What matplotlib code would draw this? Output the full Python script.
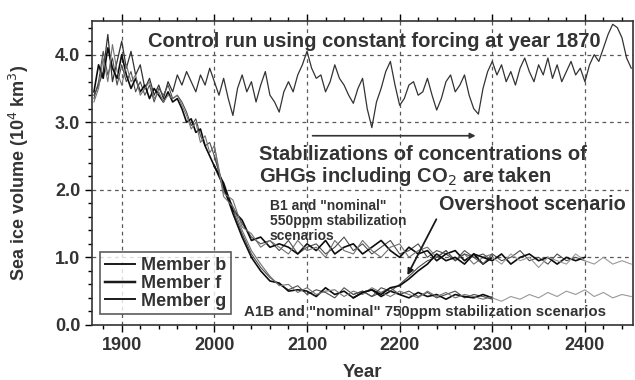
import numpy as np
import matplotlib

matplotlib.use("Agg")
import matplotlib.pyplot as plt
from matplotlib.ticker import MultipleLocator, FormatStrFormatter

plt.rcParams["font.family"] = ["Liberation Sans", "DejaVu Sans"]

# control run, every 5 years 1870-2450
control_years = np.arange(1870, 2451, 5)
control = [
    3.40, 3.55, 3.75, 4.30, 3.60, 3.90, 4.20, 3.80, 4.05, 3.70,
    3.85, 3.50, 3.65, 3.40, 3.55, 3.35, 3.60, 3.45, 3.70, 3.55,
    3.75, 3.60, 3.45, 3.70, 3.55, 3.80, 3.60, 3.40, 3.65, 3.35,
    3.10, 3.50, 3.70, 3.45, 3.60, 3.30, 3.55, 3.75, 3.40, 3.30,
    3.15, 3.45, 3.60, 3.45, 3.70, 3.85, 4.05, 3.80, 3.65, 3.70,
    3.45, 3.60, 3.85, 3.65, 3.55, 3.40, 3.28, 3.50, 3.65, 3.20,
    2.92, 3.30, 3.50, 3.75, 3.90, 3.55, 3.25, 3.35, 3.55, 3.60,
    3.40, 3.45, 3.65, 3.40, 3.18, 3.35, 3.60, 3.70, 3.45, 3.55,
    3.70, 3.40, 3.20, 3.12, 3.50, 3.75, 3.90, 3.70, 3.85, 3.60,
    3.75, 3.55, 3.80, 3.95, 3.75, 3.60, 3.85, 3.70, 3.95, 3.65,
    3.85, 3.60, 3.75, 3.90, 3.70, 3.80, 3.60, 3.85, 4.00, 3.90,
    4.10, 4.30, 4.45, 4.40, 4.25, 3.95, 3.80,
]

# historical part of the three members, every 5 years 1870-2000
hist_years = np.arange(1870, 2001, 5)
hist_b = [3.35, 3.60, 4.05, 3.70, 3.95, 3.55, 3.85, 3.60, 3.75, 3.45, 3.60, 3.40, 3.55, 3.30,
          3.50, 3.40, 3.55, 3.35, 3.40, 3.30, 3.15, 2.95, 3.05, 2.80, 2.65, 2.70, 2.50]
hist_f = [3.45, 3.85, 3.65, 4.10, 3.80, 3.65, 4.00, 3.70, 3.50, 3.65, 3.45, 3.55, 3.35, 3.50,
          3.40, 3.30, 3.45, 3.30, 3.35, 3.20, 3.00, 3.05, 2.85, 2.90, 2.65, 2.50, 2.35]
hist_g = [3.30, 3.50, 3.95, 3.60, 4.15, 3.75, 3.55, 3.85, 3.60, 3.70, 3.40, 3.50, 3.60, 3.35,
          3.45, 3.30, 3.40, 3.35, 3.40, 3.25, 3.10, 2.90, 3.00, 2.70, 2.80, 2.55, 2.65]

# scenarios, every 10 years 2000-2300
scen_years = np.arange(2000, 2301, 10)
b1_b = [2.50, 2.05, 1.75, 1.50, 1.30, 1.20, 1.25, 1.10, 1.25, 1.05, 1.15, 1.20, 1.05, 1.15, 1.30, 1.10,
        1.20, 1.05, 1.15, 1.25, 1.05, 1.10, 1.20, 1.00, 1.10, 1.05, 0.95, 1.10, 1.00, 1.05, 0.95]
b1_f = [2.35, 2.10, 1.70, 1.55, 1.25, 1.30, 1.15, 1.20, 1.15, 1.05, 1.20, 1.10, 1.25, 1.05, 1.15, 1.20,
        1.05, 1.15, 1.25, 1.10, 1.00, 1.15, 1.05, 1.10, 0.95, 1.05, 1.10, 0.95, 1.05, 0.90, 1.00]
b1_g = [2.65, 1.95, 1.85, 1.45, 1.35, 1.15, 1.25, 1.15, 1.05, 1.25, 1.10, 1.15, 1.00, 1.25, 1.10, 1.05,
        1.25, 1.10, 1.00, 1.15, 1.20, 1.00, 1.10, 1.15, 1.00, 1.10, 0.95, 1.05, 0.90, 1.00, 1.05]
a1b_b = [2.50, 2.00, 1.70, 1.35, 1.05, 0.85, 0.70, 0.60, 0.52, 0.58, 0.45, 0.52, 0.48, 0.40, 0.55, 0.45,
         0.50, 0.42, 0.48, 0.55, 0.45, 0.50, 0.42, 0.48, 0.40, 0.45, 0.50, 0.40, 0.45, 0.42, 0.38]
a1b_f = [2.35, 2.05, 1.65, 1.30, 1.00, 0.80, 0.65, 0.62, 0.50, 0.52, 0.50, 0.42, 0.55, 0.45, 0.50, 0.40,
         0.48, 0.52, 0.42, 0.50, 0.45, 0.40, 0.48, 0.42, 0.45, 0.38, 0.45, 0.42, 0.40, 0.45, 0.40]
a1b_g = [2.65, 1.90, 1.75, 1.40, 1.10, 0.90, 0.72, 0.58, 0.60, 0.48, 0.55, 0.45, 0.50, 0.52, 0.42, 0.50,
         0.45, 0.55, 0.48, 0.42, 0.50, 0.45, 0.40, 0.50, 0.42, 0.48, 0.40, 0.45, 0.42, 0.38, 0.42]

# overshoot, every 10 years 2150-2400
over_years = np.arange(2150, 2401, 10)
over_b = [0.45, 0.50, 0.42, 0.55, 0.50, 0.60, 0.72, 0.85, 0.95, 1.00, 1.10, 0.95, 1.05,
          1.00, 0.90, 1.05, 0.95, 1.00, 1.10, 0.95, 1.00, 0.90, 1.05, 0.95, 1.00, 0.95]
over_f = [0.40, 0.48, 0.52, 0.45, 0.55, 0.58, 0.68, 0.80, 0.90, 1.05, 0.95, 1.00, 0.90,
          1.05, 1.00, 0.95, 1.05, 0.90, 1.00, 1.05, 0.95, 1.00, 0.90, 1.00, 0.95, 1.00]

# faint continuation, every 10 years 2300-2450
ext_years = np.arange(2300, 2451, 10)
b1_ext = [1.00, 0.90, 1.05, 0.95, 1.00, 0.85, 1.00, 0.95, 0.90, 1.05, 0.95, 0.90, 1.00, 0.90, 0.95, 0.90]
a1b_ext = [0.40, 0.35, 0.42, 0.38, 0.45, 0.40, 0.48, 0.42, 0.50, 0.45, 0.52, 0.42, 0.48, 0.40, 0.45, 0.42]

member_names = ["Member b", "Member f", "Member g"]
member_colors = ["0.30", "0.05", "0.45"]
member_widths = [0.8, 1.2, 0.8]

fig = plt.figure(figsize=(6.35, 3.8), dpi=100)
ax = fig.add_axes([0.145, 0.145, 0.852, 0.80])

ax.plot(control_years, control, color="0.2", lw=0.9)

for hist, b1, a1b, col, lw in zip([hist_b, hist_f, hist_g], [b1_b, b1_f, b1_g], [a1b_b, a1b_f, a1b_g],
                                  member_colors, member_widths):
    ax.plot(hist_years, hist, color=col, lw=lw)
    ax.plot(scen_years, b1, color=col, lw=lw)
    ax.plot(scen_years, a1b, color=col, lw=lw)
ax.plot(over_years, over_b, color=member_colors[0], lw=member_widths[0])
ax.plot(over_years, over_f, color=member_colors[1], lw=member_widths[1])
ax.plot(ext_years, b1_ext, color="0.6", lw=0.8)
ax.plot(ext_years, a1b_ext, color="0.6", lw=0.8)

ax.set_xlim(1868, 2452)
ax.set_ylim(0, 4.5)
ax.xaxis.set_major_locator(MultipleLocator(100))
ax.xaxis.set_minor_locator(MultipleLocator(20))
ax.yaxis.set_major_locator(MultipleLocator(1.0))
ax.yaxis.set_minor_locator(MultipleLocator(0.2))
ax.yaxis.set_major_formatter(FormatStrFormatter("%.1f"))
ax.tick_params(which="both", direction="out", top=True, labelsize=13, width=1.0)
ax.tick_params(which="major", length=5)
ax.tick_params(which="minor", length=3)
for lab in ax.get_xticklabels() + ax.get_yticklabels():
    lab.set_fontweight("bold")
    lab.set_color("0.2")
for sp in ax.spines.values():
    sp.set_linewidth(1.2)
    sp.set_color("0.2")
ax.grid(True, which="major", ls=(0, (3, 3)), color="0.35", lw=0.9)

ax.set_xlabel("Year", fontsize=13.5, fontweight="bold", color="0.2")
ax.set_ylabel("Sea ice volume (10$^4$ km$^3$)", fontsize=13, fontweight="bold", color="0.2")
ax.yaxis.set_label_coords(-0.112, 0.5)
ax.xaxis.set_label_coords(0.5, -0.13)

txt = dict(fontweight="bold", color="0.2")
ax.text(1928, 4.2, "Control run using constant forcing at year 1870", fontsize=14.5, va="center", **txt)
ax.annotate("", xy=(2285, 2.8), xytext=(2103, 2.8),
            arrowprops=dict(arrowstyle="-|>", color="0.2", lw=1.2, mutation_scale=8))
ax.text(2048, 2.52, "Stabilizations of concentrations of", fontsize=14.5, va="center", **txt)
ax.text(2048, 2.19, "GHGs including CO$_2$ are taken", fontsize=14.5, va="center", **txt)
ax.text(2060, 1.76, "B1 and \"nominal\"", fontsize=10, va="center", **txt)
ax.text(2060, 1.54, "550ppm stabilization", fontsize=10, va="center", **txt)
ax.text(2060, 1.32, "scenarios", fontsize=10, va="center", **txt)
ax.text(2243, 1.78, "Overshoot scenario", fontsize=14.3, va="center", **txt)
ax.annotate("", xy=(2207, 0.7), xytext=(2241, 1.6),
            arrowprops=dict(arrowstyle="-|>", color="0.1", lw=1.3, mutation_scale=9))
ax.text(2032, 0.19, "A1B and \"nominal\" 750ppm stabilization scenarios", fontsize=10.8, va="center", **txt)

handles = [plt.Line2D([], [], color="0.1", lw=w + 0.6) for w in member_widths]
leg = ax.legend(handles, member_names, loc="lower left", bbox_to_anchor=(0.015, 0.035),
                frameon=True, fancybox=False, edgecolor="0.2", handlelength=1.7,
                labelspacing=0.05, borderpad=0.25, handletextpad=0.3, borderaxespad=0.0,
                prop=dict(size=13, weight="bold"))
leg.get_frame().set_linewidth(1.2)
for t in leg.get_texts():
    t.set_color("0.2")

fig.savefig("out.png", dpi=100)
